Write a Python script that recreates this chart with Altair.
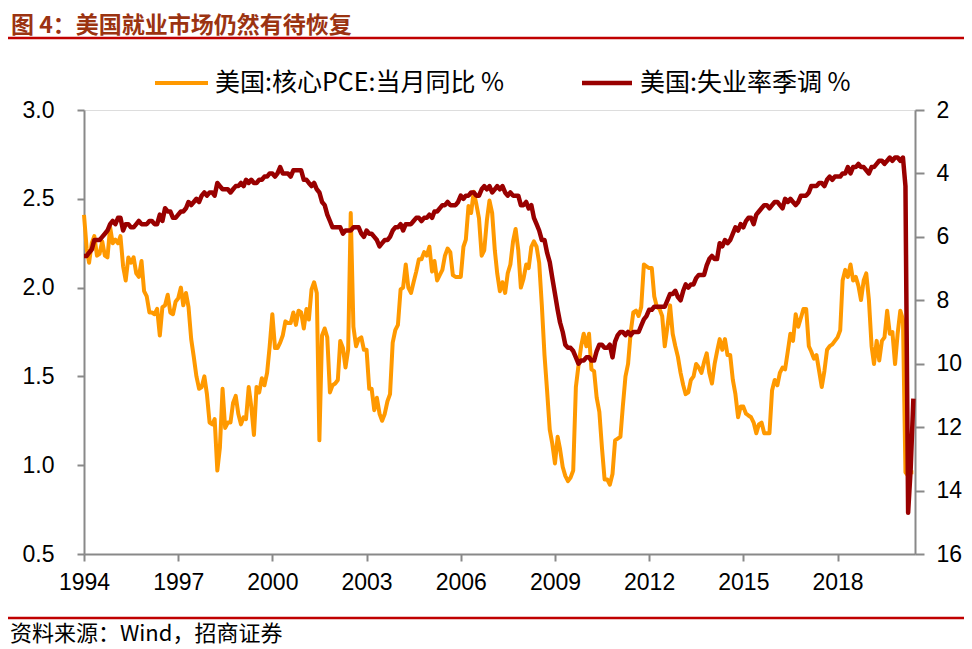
import altair as alt
import pandas as pd

# ---------------- data ----------------
months = [d.strftime("%Y-%m-%d") for d in pd.date_range("1994-01-01", "2020-06-01", freq="MS")]

core_pce = (
    [2.41, 2.22, 2.14, 2.25, 2.29, 2.18, 2.19, 2.26, 2.18, 2.17, 2.34, 2.25]   # 1994
    + [2.27, 2.25, 2.29, 2.12, 2.04, 2.17, 2.14, 2.17, 2.08, 2.06, 2.15, 1.98]  # 1995
    + [1.95, 1.86, 1.86, 1.85, 1.88, 1.73, 1.89, 1.90, 1.96, 1.86, 1.85, 1.92]  # 1996
    + [1.94, 2.00, 1.90, 1.97, 1.89, 1.71, 1.61, 1.50, 1.43, 1.44, 1.50, 1.40]  # 1997
    + [1.24, 1.23, 1.26, 0.97, 1.10, 1.43, 1.21, 1.24, 1.24, 1.35, 1.39, 1.29]  # 1998
    + [1.23, 1.27, 1.26, 1.44, 1.33, 1.17, 1.44, 1.41, 1.49, 1.45, 1.52, 1.67]  # 1999
    + [1.85, 1.66, 1.66, 1.69, 1.73, 1.81, 1.80, 1.80, 1.86, 1.79, 1.87, 1.86]  # 2000
    + [1.77, 1.88, 1.82, 1.99, 2.03, 1.97, 1.14, 1.73, 1.77, 1.72, 1.41, 1.45]  # 2001
    + [1.46, 1.48, 1.70, 1.66, 1.55, 1.65, 2.42, 1.78, 1.67, 1.71, 1.72, 1.65]  # 2002
    + [1.65, 1.43, 1.43, 1.31, 1.38, 1.29, 1.25, 1.29, 1.36, 1.40, 1.69, 1.76]  # 2003
    + [1.79, 1.99, 2.00, 2.13, 2.00, 1.97, 2.03, 2.09, 2.16, 2.16, 2.20, 2.18]  # 2004
    + [2.23, 2.09, 2.15, 2.04, 2.07, 2.10, 2.18, 2.22, 2.20, 2.07, 2.06, 2.06]  # 2005
    + [2.06, 2.23, 2.27, 2.46, 2.42, 2.54, 2.47, 2.39, 2.18, 2.21, 2.38, 2.49]  # 2006
    + [2.42, 2.21, 2.08, 1.98, 2.03, 1.97, 2.08, 2.13, 2.26, 2.33, 2.21, 2.00]  # 2007
    + [2.05, 2.13, 2.11, 2.23, 2.26, 2.23, 2.14, 1.90, 1.62, 1.42, 1.20, 1.12]  # 2008
    + [1.01, 1.16, 1.09, 0.99, 0.94, 0.91, 0.93, 0.97, 1.44, 1.56, 1.67, 1.74]  # 2009
    + [1.67, 1.74, 1.54, 1.53, 1.38, 1.30, 1.10, 0.92, 0.92, 0.89, 0.95, 1.14]  # 2010
    + [1.15, 1.16, 1.33, 1.50, 1.57, 1.75, 1.86, 1.87, 1.84, 1.89, 2.13, 2.12]  # 2011
    + [2.11, 2.11, 1.95, 1.89, 1.88, 1.84, 1.67, 1.78, 1.90, 1.74, 1.67, 1.61]  # 2012
    + [1.52, 1.45, 1.40, 1.41, 1.48, 1.50, 1.57, 1.55, 1.52, 1.58, 1.63, 1.52]  # 2013
    + [1.46, 1.57, 1.64, 1.71, 1.65, 1.71, 1.62, 1.62, 1.48, 1.40, 1.27, 1.33]  # 2014
    + [1.33, 1.29, 1.28, 1.27, 1.24, 1.18, 1.23, 1.24, 1.18, 1.18, 1.18, 1.42]  # 2015
    + [1.48, 1.45, 1.52, 1.55, 1.54, 1.64, 1.74, 1.70, 1.85, 1.78, 1.83, 1.88]  # 2016
    + [1.88, 1.67, 1.64, 1.60, 1.62, 1.53, 1.44, 1.53, 1.65, 1.67, 1.68, 1.70]  # 2017
    + [1.72, 1.76, 2.04, 2.10, 2.06, 2.13, 2.04, 2.06, 2.01, 1.93, 2.04, 2.08]  # 2018
    + [1.93, 1.67, 1.57, 1.70, 1.59, 1.70, 1.72, 1.87, 1.74, 1.75, 1.57, 1.74]  # 2019
    + [1.87, 1.82, 0.96, 0.94, 0.96, 0.96]                                      # 2020
)

unemployment = (
    [6.6, 6.6, 6.5, 6.4, 6.1, 6.1, 6.1, 6.0, 5.9, 5.8, 5.6, 5.5]   # 1994
    + [5.6, 5.4, 5.4, 5.8, 5.6, 5.6, 5.7, 5.7, 5.6, 5.5, 5.6, 5.6]  # 1995
    + [5.6, 5.5, 5.5, 5.6, 5.6, 5.3, 5.5, 5.1, 5.2, 5.2, 5.4, 5.4]  # 1996
    + [5.3, 5.2, 5.2, 5.1, 4.9, 5.0, 4.9, 4.8, 4.9, 4.7, 4.6, 4.7]  # 1997
    + [4.6, 4.6, 4.7, 4.3, 4.4, 4.5, 4.5, 4.5, 4.6, 4.5, 4.4, 4.4]  # 1998
    + [4.3, 4.4, 4.2, 4.3, 4.2, 4.3, 4.3, 4.2, 4.2, 4.1, 4.1, 4.0]  # 1999
    + [4.0, 4.1, 4.0, 3.8, 4.0, 4.0, 4.0, 4.1, 3.9, 3.9, 3.9, 3.9]  # 2000
    + [4.2, 4.2, 4.3, 4.4, 4.3, 4.5, 4.6, 4.9, 5.0, 5.3, 5.5, 5.7]  # 2001
    + [5.7, 5.7, 5.7, 5.9, 5.8, 5.8, 5.8, 5.7, 5.7, 5.7, 5.9, 6.0]  # 2002
    + [5.8, 5.9, 5.9, 6.0, 6.1, 6.3, 6.2, 6.1, 6.1, 6.0, 5.8, 5.7]  # 2003
    + [5.7, 5.6, 5.8, 5.6, 5.6, 5.6, 5.5, 5.4, 5.4, 5.5, 5.4, 5.4]  # 2004
    + [5.3, 5.4, 5.2, 5.2, 5.1, 5.0, 5.0, 4.9, 5.0, 5.0, 5.0, 4.9]  # 2005
    + [4.7, 4.8, 4.7, 4.7, 4.6, 4.6, 4.7, 4.7, 4.5, 4.4, 4.5, 4.4]  # 2006
    + [4.6, 4.5, 4.4, 4.5, 4.4, 4.6, 4.7, 4.6, 4.7, 4.7, 4.7, 5.0]  # 2007
    + [5.0, 4.9, 5.1, 5.0, 5.4, 5.6, 5.8, 6.1, 6.1, 6.5, 6.8, 7.3]  # 2008
    + [7.8, 8.3, 8.7, 9.0, 9.4, 9.5, 9.5, 9.6, 9.8, 10.0, 9.9, 9.9]  # 2009
    + [9.8, 9.8, 9.9, 9.9, 9.6, 9.4, 9.4, 9.5, 9.5, 9.4, 9.8, 9.3]  # 2010
    + [9.1, 9.0, 9.0, 9.1, 9.0, 9.1, 9.0, 9.0, 9.0, 8.8, 8.6, 8.5]  # 2011
    + [8.3, 8.3, 8.2, 8.2, 8.2, 8.2, 8.2, 8.0, 7.8, 7.8, 7.7, 7.9]  # 2012
    + [8.0, 7.7, 7.5, 7.6, 7.5, 7.5, 7.3, 7.2, 7.2, 7.2, 6.9, 6.7]  # 2013
    + [6.6, 6.7, 6.7, 6.2, 6.3, 6.1, 6.2, 6.1, 5.9, 5.7, 5.8, 5.6]  # 2014
    + [5.7, 5.5, 5.4, 5.4, 5.6, 5.3, 5.2, 5.1, 5.0, 5.0, 5.1, 5.0]  # 2015
    + [4.9, 4.9, 5.0, 5.1, 4.8, 4.9, 4.8, 4.9, 5.0, 4.9, 4.7, 4.7]  # 2016
    + [4.7, 4.6, 4.4, 4.4, 4.4, 4.3, 4.3, 4.4, 4.2, 4.1, 4.2, 4.1]  # 2017
    + [4.1, 4.1, 4.0, 4.0, 3.8, 4.0, 3.8, 3.8, 3.7, 3.8, 3.8, 3.9]  # 2018
    + [4.0, 3.8, 3.8, 3.7, 3.6, 3.6, 3.7, 3.6, 3.5, 3.6, 3.5, 3.5]  # 2019
    + [3.6, 3.5, 4.4, 14.7, 13.3, 11.1]                             # 2020
)

left_ticks = [0.5, 1.0, 1.5, 2.0, 2.5, 3.0]
right_ticks = [2, 4, 6, 8, 10, 12, 14, 16]
year_ticks = [1994, 1997, 2000, 2003, 2006, 2009, 2012, 2015, 2018]

series_names = ["美国:核心PCE:当月同比 %", "美国:失业率季调 %"]
title_text = "图 4：美国就业市场仍然有待恢复"
source_text = "资料来源：Wind，招商证券"

ORANGE = "#FF9900"
RED = "#990000"
GREY = "#898989"
LINE_RED = "#C00000"

df = pd.DataFrame({"date": months, "pce": core_pce, "unemp": unemployment})

x_enc = alt.X(
    "date:T",
    scale=alt.Scale(domain=[alt.DateTime(year=1994, month=1, date=1),
                            alt.DateTime(year=2020, month=6, date=20)]),
    axis=alt.Axis(
        values=[alt.DateTime(year=y, month=1, date=1) for y in year_ticks],
        format="%Y", title=None, grid=False,
        domainColor=GREY, domainWidth=2, tickColor=GREY, tickWidth=2, tickSize=7,
        labelFont="Liberation Sans", labelFontSize=23, labelColor="black",
        labelPadding=10, labelFlush=False, labelOverlap=False,
    ),
)

pce_line = alt.Chart(df).mark_line(color=ORANGE, strokeWidth=4, strokeJoin="round").encode(
    x=x_enc,
    y=alt.Y(
        "pce:Q",
        scale=alt.Scale(domain=[0.5, 3.0], nice=False, zero=False),
        axis=alt.Axis(
            orient="left", values=left_ticks, format=".1f", title=None, grid=False,
            domainColor=GREY, domainWidth=2, tickColor=GREY, tickWidth=2, tickSize=7,
            labelFont="Liberation Sans", labelFontSize=23, labelColor="black",
            labelPadding=23, labelFlush=False, labelOverlap=False,
        ),
    ),
)

unemp_line = alt.Chart(df).mark_line(color=RED, strokeWidth=4.5, strokeJoin="round").encode(
    x=x_enc,
    y=alt.Y(
        "unemp:Q",
        scale=alt.Scale(domain=[2, 16], reverse=True, nice=False, zero=False),
        axis=alt.Axis(
            orient="right", values=right_ticks, format="d", title=None, grid=False,
            domainColor=GREY, domainWidth=2, tickColor=GREY, tickWidth=2, tickSize=9,
            labelFont="Liberation Sans", labelFontSize=23, labelColor="black",
            labelPadding=12, labelFlush=False, labelOverlap=False,
        ),
    ),
)

one = pd.DataFrame({"k": [0]})

def text_layer(txt, x, y, size, color="black", weight="normal", font="Noto Sans CJK SC"):
    return alt.Chart(pd.DataFrame({"t": [txt]})).mark_text(
        align="left", baseline="middle", fontSize=size, color=color,
        fontWeight=weight, font=font,
    ).encode(text="t:N", x=alt.value(x), y=alt.value(y))

def hrule(x1, x2, y, color, width):
    return alt.Chart(one).mark_rule(color=color, strokeWidth=width).encode(
        x=alt.value(x1), x2=alt.value(x2), y=alt.value(y)
    )

decor = [
    text_layer(title_text, -73, -84, 23, color="#9B3311", weight="bold"),
    hrule(-76, 880, -72, LINE_RED, 2.5),
    hrule(71, 124, -27, ORANGE, 4),
    text_layer(series_names[0], 131, -27, 25),
    hrule(498, 548, -27, RED, 4.5),
    text_layer(series_names[1], 556, -27, 25),
    hrule(-76, 880, 508, LINE_RED, 2.5),
    text_layer(source_text, -74, 524, 22),
]

chart = alt.layer(pce_line, unemp_line, *decor).resolve_scale(y="independent").properties(
    width=831,
    height=444,
    autosize=alt.AutoSizeParams(type="none"),
    padding={"left": 76, "top": 102, "right": 49, "bottom": 92},
).configure_view(stroke=None).configure(background="white")

chart.save("out.html", embed_options={"renderer": "svg", "actions": False})
